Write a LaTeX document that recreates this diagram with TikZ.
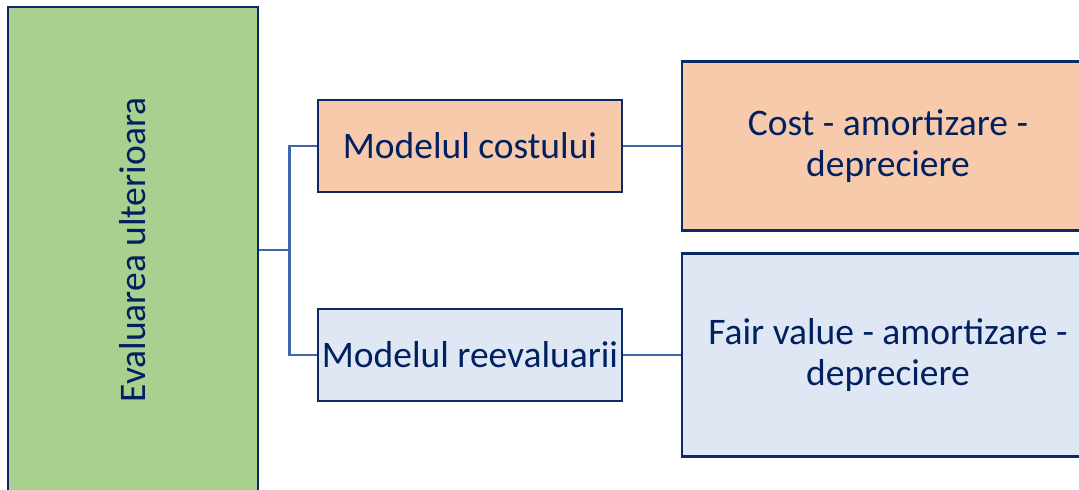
\documentclass[tikz,border=0pt]{standalone}
\usepackage{fontspec}
\setmainfont{Carlito}
\definecolor{navy}{HTML}{0B2A66}
\definecolor{txt}{HTML}{002060}
\definecolor{conn}{HTML}{3F67AE}
\definecolor{greenf}{HTML}{A9D08E}
\definecolor{orangef}{HTML}{F7CAAC}
\definecolor{bluef}{HTML}{DEE7F3}
\begin{document}
\begin{tikzpicture}[x=1bp,y=-1bp,
  lbl/.style={text=txt,font=\fontsize{37.5bp}{40.5bp}\selectfont},
  box/.style={lbl,draw=navy,line width=2.6bp,inner sep=0pt,align=center},
  link/.style={draw=conn,line width=2.6bp}]
\useasboundingbox (0,0) rectangle (1079,490);
\clip (0,0) rectangle (1079,490);
\node[box,fill=greenf,minimum width=250bp,minimum height=486bp] (root) at (133,250) {};
\node[lbl,rotate=90] (rootlbl) at (133,250) {Evaluarea ulterioara};
\node[box,fill=orangef,minimum width=304bp,minimum height=92bp] (cost) at (470,146) {Modelul costului};
\node[box,fill=bluef,minimum width=304bp,minimum height=92bp] (reev) at (470,355) {Modelul reevaluarii};
\node[box,fill=orangef,minimum width=412bp,minimum height=169bp] (costR) at (888,146) {Cost - amortizare -\\depreciere};
\node[box,fill=bluef,minimum width=412bp,minimum height=203bp] (reevR) at (888,355) {Fair value - amortizare -\\depreciere};
\draw[link] (root.east) -- ++(30,0) coordinate (br);
\draw[link] (br) |- (cost.west);
\draw[link] (br) |- (reev.west);
\draw[link] (cost.east) -- (costR.west);
\draw[link] (reev.east) -- (reevR.west);
\end{tikzpicture}
\end{document}
